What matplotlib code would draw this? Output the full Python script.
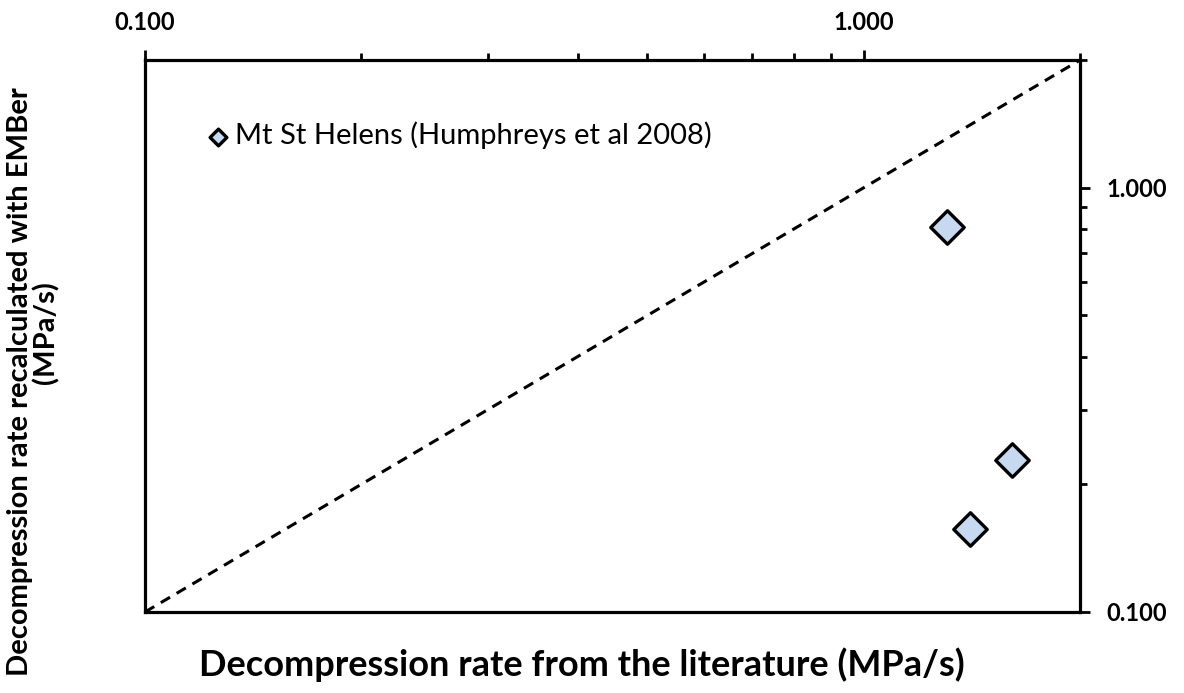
import matplotlib
matplotlib.use("Agg")
import matplotlib.pyplot as plt
from matplotlib.ticker import LogLocator, FixedFormatter, FixedLocator, NullFormatter

plt.rcParams['font.family'] = ['Lato', 'DejaVu Sans']

# decompression rates (MPa/s)
lit_rate = [1.305, 1.61, 1.405]
ember_rate = [0.81, 0.228, 0.157]
series_name = "Mt St Helens (Humphreys et al 2008)"
one_to_one = [0.1, 2.0]

fig = plt.figure(figsize=(11.84, 6.93), dpi=100)
ax = fig.add_axes([0.1225, 0.1169, 0.7897, 0.7965])

ax.plot(one_to_one, one_to_one, color="black", lw=2.2, ls=(0, (3.5, 2.5)), zorder=2)
ax.scatter(lit_rate, ember_rate, marker="D", s=290, facecolor="#c6d9f0",
           edgecolor="black", linewidths=2.4, zorder=3, label=series_name)

ax.set_xscale("log")
ax.set_yscale("log")
ax.set_xlim(0.1, 2.0)
ax.set_ylim(0.1, 2.0)

for s in ax.spines.values():
    s.set_linewidth(2.3)

ax.xaxis.set_ticks_position("top")
ax.yaxis.set_ticks_position("right")
ax.xaxis.set_major_locator(FixedLocator([0.1, 1.0]))
ax.yaxis.set_major_locator(FixedLocator([0.1, 1.0]))
ax.xaxis.set_major_formatter(FixedFormatter(["0.100", "1.000"]))
ax.yaxis.set_major_formatter(FixedFormatter(["0.100", "1.000"]))
ax.xaxis.set_minor_locator(LogLocator(base=10, subs=range(2, 10)))
ax.yaxis.set_minor_locator(LogLocator(base=10, subs=range(2, 10)))
ax.xaxis.set_minor_formatter(NullFormatter())
ax.yaxis.set_minor_formatter(NullFormatter())
ax.tick_params(which="major", direction="out", length=7, width=2, labelsize=17)
ax.tick_params(axis="x", which="major", pad=12)
ax.tick_params(axis="y", which="major", pad=12)
ax.tick_params(which="minor", direction="out", length=5, width=2)
for lab in ax.get_xticklabels() + ax.get_yticklabels():
    lab.set_fontweight("bold")

fig.text(582 / 1184, 1 - 665 / 693, "Decompression rate from the literature (MPa/s)",
         fontsize=26, fontweight="bold", ha="center", va="center")
fig.text(20 / 1184, 1 - 382 / 693, "Decompression rate recalculated with EMBer",
         fontsize=21, fontweight="bold", ha="center", va="center", rotation=90)
fig.text(46 / 1184, 1 - 333 / 693, "(MPa/s)",
         fontsize=21, fontweight="bold", ha="center", va="center", rotation=90)

leg = ax.legend(loc="upper left", bbox_to_anchor=(0.066, 0.888), frameon=False,
                fontsize=21, handlelength=0.76, handletextpad=0.2,
                markerscale=0.5, borderaxespad=0, borderpad=0)

fig.savefig("out.png", dpi=100)
